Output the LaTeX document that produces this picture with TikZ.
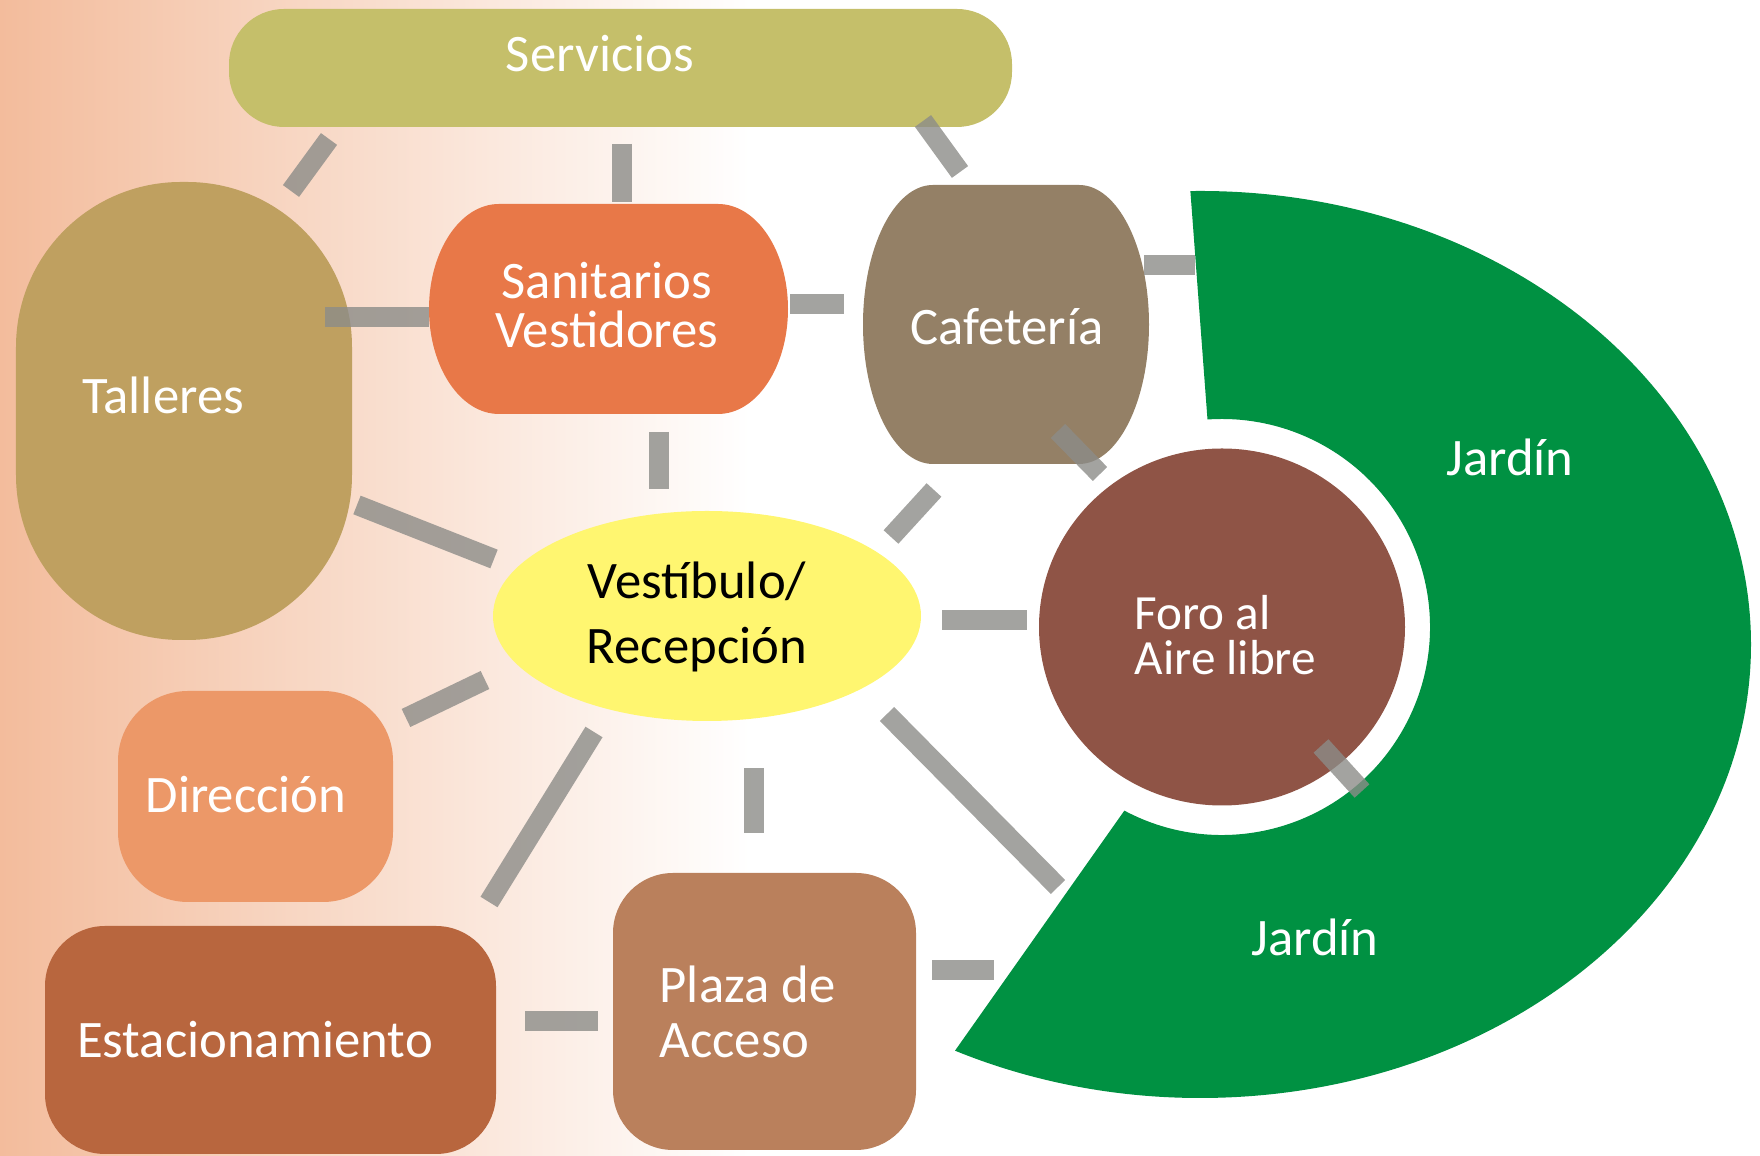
\documentclass[tikz,border=0pt]{standalone}
\usepackage{fontspec}
\setmainfont{Carlito}
\usetikzlibrary{calc,shapes.geometric}

\definecolor{serviciosColor}{RGB}{197,191,106}
\definecolor{talleresColor}{RGB}{191,160,96}
\definecolor{sanitariosColor}{RGB}{232,120,72}
\definecolor{cafeteriaColor}{RGB}{148,128,102}
\definecolor{vestibuloColor}{RGB}{255,246,112}
\definecolor{foroColor}{RGB}{143,84,70}
\definecolor{jardinColor}{RGB}{0,145,66}
\definecolor{direccionColor}{RGB}{236,152,104}
\definecolor{estacionamientoColor}{RGB}{184,102,62}
\definecolor{plazaColor}{RGB}{186,128,92}
\definecolor{barColor}{RGB}{140,140,136}
\definecolor{fondoColor}{RGB}{243,188,156}

\tikzset{
	roomBox/.style={rectangle, inner sep=0pt, text centered},
	whiteLabel/.style={text=white, inner sep=0pt, font=\fontsize{15}{14}\selectfont},
	grayBar/.style={line width=0.2cm, draw=barColor, draw opacity=0.8}
}

\begin{document}
\begin{tikzpicture}
		
		\useasboundingbox (0,0) rectangle (17.6,-11.56);
		
		%Background
		\shade[left color=fondoColor, right color=white] (0,0) rectangle (7.5,-11.56);
		
		%Servicios
		\node (servicios) at (6.205,-0.68) [roomBox, fill=serviciosColor, rounded corners=0.55cm, minimum width=7.83cm, 
		minimum height=1.18cm]{};
		\node (serviciosText) at (6.00,-0.54) [whiteLabel]{Servicios};
		
		%Talleres
		\node (talleres) at (1.84,-4.11) [roomBox, fill=talleresColor, rounded corners=1.65cm, minimum width=3.36cm, 
		minimum height=4.58cm]{};
		\node (talleresText) at (1.63,-3.95) [whiteLabel]{Talleres};
		
		%Sanitarios
		\fill[sanitariosColor] (4.99,-2.04) -- (7.18,-2.04) arc[start angle=90, end angle=-90, x radius=0.7, y radius=1.05] 
		-- (4.99,-4.14) arc[start angle=270, end angle=90, x radius=0.7, y radius=1.05] -- cycle;
		\node (sanitariosText) at (6.07,-3.05) [whiteLabel, align=center]{Sanitarios\\Vestidores};
		
		%Cafeteria
		\fill[cafeteriaColor] (9.33,-1.85) -- (10.79,-1.85) arc[start angle=90, end angle=-90, x radius=0.7, y radius=1.395] 
		-- (9.33,-4.64) arc[start angle=270, end angle=90, x radius=0.7, y radius=1.395] -- cycle;
		\node (cafeteriaText) at (10.07,-3.27) [whiteLabel]{Cafetería};
		
		%Vestibulo
		\node (vestibulo) at (7.07,-6.16) [ellipse, inner sep=0pt, fill=vestibuloColor, minimum width=4.28cm, 
		minimum height=2.10cm]{};
		\node (vestibuloText) at (6.97,-6.17) [inner sep=0pt, align=center, font=\fontsize{15}{18.5}\selectfont]{Vestíbulo/\\Recepción};
		
		%Foro and Jardin
		\node (foro) at (12.22,-6.27) [ellipse, inner sep=0pt, fill=foroColor, minimum width=3.66cm, 
		minimum height=3.57cm]{};
		\fill[jardinColor] ($(12.0,-6.445)+(91:5.51cm and 4.535cm)$) arc[start angle=91, end angle=-116.4, x radius=5.51, y radius=4.535] 
		-- ($(foro.center)+(-118:2.08)$) arc[start angle=-118, end angle=94, radius=2.08] -- cycle;
		\node (foroText) at (11.34,-6.35) [whiteLabel, anchor=west, align=left, font=\fontsize{14}{13}\selectfont]{Foro al\\Aire libre};
		\node (jardinTextUp) at (15.10,-4.57) [whiteLabel]{Jardín};
		\node (jardinTextDown) at (13.15,-9.37) [whiteLabel]{Jardín};
		
		%Direccion
		\node (direccion) at (2.555,-7.965) [roomBox, fill=direccionColor, rounded corners=0.7cm, minimum width=2.75cm, 
		minimum height=2.11cm]{};
		\node (direccionText) at (2.46,-7.95) [whiteLabel]{Dirección};
		
		%Estacionamiento
		\node (estacionamiento) at (2.705,-10.40) [roomBox, fill=estacionamientoColor, rounded corners=0.6cm, minimum width=4.51cm, 
		minimum height=2.28cm]{};
		\node (estacionamientoText) at (2.55,-10.40) [whiteLabel]{Estacionamiento};
		
		%Plaza de Acceso
		\node (plaza) at (7.645,-10.115) [roomBox, fill=plazaColor, rounded corners=0.6cm, minimum width=3.03cm, 
		minimum height=2.77cm]{};
		\node (plazaText) at (6.59,-10.12) [whiteLabel, anchor=west, align=left, font=\fontsize{15}{15.5}\selectfont]{Plaza de\\Acceso};
		
		%Bars
		\draw[grayBar] (3.29,-1.39) -- (2.91,-1.91);
		\draw[grayBar] (6.22,-1.44) -- (6.22,-2.02);
		\draw[grayBar] (9.23,-1.21) -- (9.60,-1.72);
		\draw[grayBar] (3.25,-3.17) -- (4.29,-3.17);
		\draw[grayBar] (7.90,-3.04) -- (8.44,-3.04);
		\draw[grayBar] (6.59,-4.32) -- (6.59,-4.89);
		\draw[grayBar] (11.44,-2.65) -- (11.95,-2.65);
		\draw[grayBar] (10.58,-4.31) -- (11.00,-4.74);
		\draw[grayBar] (9.34,-4.90) -- (8.91,-5.37);
		\draw[grayBar] (3.57,-5.05) -- (4.94,-5.59);
		\draw[grayBar] (9.42,-6.20) -- (10.27,-6.20);
		\draw[grayBar] (13.21,-7.46) -- (13.62,-7.91);
		\draw[grayBar] (8.87,-7.14) -- (10.58,-8.87);
		\draw[grayBar] (9.32,-9.70) -- (9.94,-9.70);
		\draw[grayBar] (7.54,-7.68) -- (7.54,-8.33);
		\draw[grayBar] (4.85,-6.80) -- (4.06,-7.18);
		\draw[grayBar] (5.94,-7.32) -- (4.89,-9.02);
		\draw[grayBar] (5.25,-10.21) -- (5.98,-10.21);
		
\end{tikzpicture}
\end{document}
